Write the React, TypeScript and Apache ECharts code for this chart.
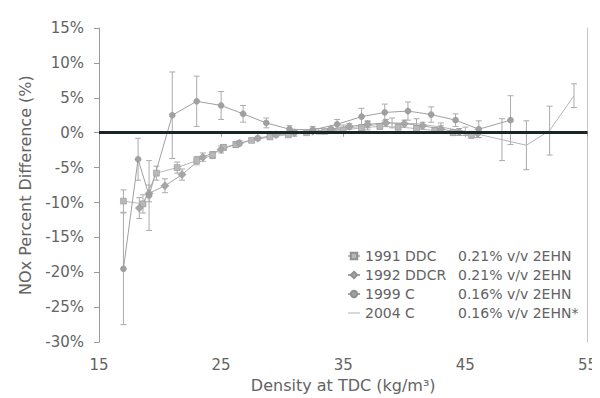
import React, { useEffect, useRef } from "react";
import * as echarts from "echarts";

const seriesNames = ["1991 DDC", "1992 DDCR", "1999 C", "2004 C"];
const seriesSpecs = ["0.21% v/v 2EHN", "0.21% v/v 2EHN", "0.16% v/v 2EHN", "0.16% v/v 2EHN*"];

const x1991 = [17, 18.6, 19.7, 21.4, 23, 24.3, 25.2, 26.2, 27.5, 29, 30.5, 32, 33.5, 35, 36.5, 38, 39.5, 41, 42.5, 44, 45.5];
const y1991 = [-9.8, -10.2, -5.8, -5, -4, -3.2, -2.1, -1.7, -1.1, -0.6, -0.3, 0, 0.2, 0.4, 0.7, 0.9, 0.8, 0.6, 0.3, 0, -0.3];
const e1991 = [1.6, 1.3, 1, 0.8, 0.6, 0.5, 0.4, 0.4, 0.3, 0.3, 0.3, 0.3, 0.3, 0.3, 0.4, 0.4, 0.4, 0.4, 0.4, 0.4, 0.5];

const x1992 = [18.3, 19.1, 20.4, 21.8, 23.5, 25, 26.5, 28, 29.5, 31, 32.5, 34, 35.5, 37, 38.5, 40, 41.5, 43, 44.5, 46];
const y1992 = [-10.8, -8.7, -7.6, -6, -3.5, -2.4, -1.5, -0.8, -0.3, 0, 0.2, 0.5, 0.9, 1.2, 1.4, 1.3, 1.0, 0.5, 0.1, -0.1];
const e1992 = [1.5, 1.2, 1, 0.8, 0.6, 0.5, 0.4, 0.3, 0.3, 0.3, 0.3, 0.3, 0.4, 0.5, 0.5, 0.5, 0.5, 0.5, 0.5, 0.6];

const x1999 = [17, 18.2, 19.1, 21, 23, 25, 26.8, 28.7, 30.6, 32.5, 34.5, 36.5, 38.4, 40.3, 42.2, 44.2, 46.1, 48.7];
const y1999 = [-19.5, -3.8, -9, 2.5, 4.5, 3.9, 2.7, 1.4, 0.5, 0.4, 1.2, 2.3, 2.9, 3.1, 2.6, 1.8, 0.5, 1.8];
const e1999 = [8, 3, 5, 6.2, 3.6, 2, 1.2, 0.7, 0.5, 0.5, 0.7, 1.2, 1.2, 1.3, 1.1, 0.9, 1.2, 3.5];

const x2004 = [29, 31, 33, 35, 37, 39, 41, 43, 45, 48, 50, 51.9, 53.9];
const y2004 = [-0.4, -0.1, 0.2, 0.6, 1.0, 1.4, 1.3, 0.8, 0.2, -1.0, -1.8, 0.3, 5.3];
const e2004 = [0.4, 0.4, 0.4, 0.5, 0.6, 0.7, 0.7, 0.6, 0.6, 3, 3.5, 3.5, 1.7];

const xs = [x1991, x1992, x1999, x2004];
const ys = [y1991, y1992, y1999, y2004];
const es = [e1991, e1992, e1999, e2004];
const colors = ["#b8b8b8", "#a6a6a6", "#a0a0a0", "#b4b4b4"];
const symbols = ["rect", "diamond", "circle", "none"];

const FONT = "DejaVu Sans, Verdana, sans-serif";
const TEXT = "#636363";

export default function App() {
  const ref = useRef<HTMLDivElement>(null);
  useEffect(() => {
    if (!ref.current) return;
    const chart = echarts.init(ref.current, null, { renderer: "svg" });
    const lineSeries: any[] = seriesNames.map((name, i) => ({
      name,
      type: "line",
      data: xs[i].map((x, j) => [x, ys[i][j]]),
      symbol: symbols[i],
      symbolSize: i === 1 ? 8 : 6,
      showSymbol: symbols[i] !== "none",
      lineStyle: { color: colors[i], width: 1 },
      itemStyle: { color: colors[i], borderColor: "#909090", borderWidth: 0.5 },
      z: 3,
    }));
    const errSeries: any[] = seriesNames.map((name, i) => ({
      name: "err-" + name,
      type: "custom",
      data: xs[i].map((x, j) => [x, ys[i][j] - es[i][j], ys[i][j] + es[i][j]]),
      renderItem: (params: any, api: any) => {
        const lo = api.coord([api.value(0), api.value(1)]);
        const hi = api.coord([api.value(0), api.value(2)]);
        const w = 3;
        const style = { stroke: "#ababab", lineWidth: 1 };
        return {
          type: "group",
          children: [
            { type: "line", shape: { x1: lo[0], y1: lo[1], x2: hi[0], y2: hi[1] }, style },
            { type: "line", shape: { x1: lo[0] - w, y1: lo[1], x2: lo[0] + w, y2: lo[1] }, style },
            { type: "line", shape: { x1: hi[0] - w, y1: hi[1], x2: hi[0] + w, y2: hi[1] }, style },
          ],
        };
      },
      z: 2,
    }));
    lineSeries[0].markLine = {
      silent: true,
      symbol: "none",
      label: { show: false },
      lineStyle: { color: "#1a2626", width: 3, type: "solid" },
      data: [{ yAxis: 0 }],
      z: 10,
    };
    const specMap: Record<string, string> = {};
    seriesNames.forEach((n, i) => (specMap[n] = seriesSpecs[i]));
    const dashIcon = "path://M0,0 L0.001,0 L0.001,0.001 Z M0,3.5 L12,3.5 L12,4.6 L0,4.6 Z M0,8 L0.001,8 L0.001,7.999 Z";
    chart.setOption({
      animation: false,
      backgroundColor: "#ffffff",
      textStyle: { fontFamily: FONT },
      grid: { left: 99, right: 9, top: 28, bottom: 49 },
      legend: {
        data: seriesNames.map((n, i) =>
          symbols[i] === "none"
            ? { name: n, icon: dashIcon, itemStyle: { color: colors[i], borderWidth: 0 }, lineStyle: { width: 0 } }
            : { name: n }
        ),
        orient: "vertical",
        left: 342,
        top: 244,
        itemWidth: 12,
        itemHeight: 8,
        itemGap: 5,
        formatter: (n: string) => `{a|${n}}{b|${specMap[n]}}`,
        textStyle: {
          fontFamily: FONT,
          fontSize: 14,
          color: TEXT,
          rich: {
            a: { width: 93, fontSize: 14, color: TEXT, fontFamily: FONT },
            b: { fontSize: 14, color: TEXT, fontFamily: FONT },
          },
        },
      },
      xAxis: {
        type: "value",
        min: 15,
        max: 55,
        interval: 10,
        name: "Density at TDC (kg/m³)",
        nameLocation: "middle",
        nameGap: 31,
        nameTextStyle: { fontSize: 16, color: TEXT, fontFamily: FONT },
        axisLine: { show: true, lineStyle: { color: "#9a9a9a" } },
        axisTick: { show: true, length: 4, lineStyle: { color: "#9a9a9a" } },
        axisLabel: { fontSize: 15, color: TEXT, margin: 15, fontFamily: FONT },
        splitLine: { show: false },
      },
      yAxis: [
        {
          type: "value",
          min: -30,
          max: 15,
          interval: 5,
          name: "NOx Percent Difference (%)",
          nameLocation: "middle",
          nameGap: 66,
          nameTextStyle: { fontSize: 16, color: TEXT, fontFamily: FONT },
          axisLine: { show: true, lineStyle: { color: "#9a9a9a" } },
          axisTick: { show: true, length: 5, lineStyle: { color: "#9a9a9a" } },
          axisLabel: { fontSize: 15, color: TEXT, margin: 15, fontFamily: FONT, formatter: (v: number) => `${v}%` },
          splitLine: { show: false },
        },
        {
          type: "value",
          min: -30,
          max: 15,
          interval: 5,
          position: "right",
          axisLine: { show: true, lineStyle: { color: "#c4c4c4" } },
          axisTick: { show: false },
          axisLabel: { show: false },
          splitLine: { show: false },
        },
      ],
      series: [...errSeries, ...lineSeries],
    });
    return () => chart.dispose();
  }, []);
  return <div ref={ref} style={{ width: 600, height: 398, marginLeft: -8, marginTop: -8 }} />;
}
